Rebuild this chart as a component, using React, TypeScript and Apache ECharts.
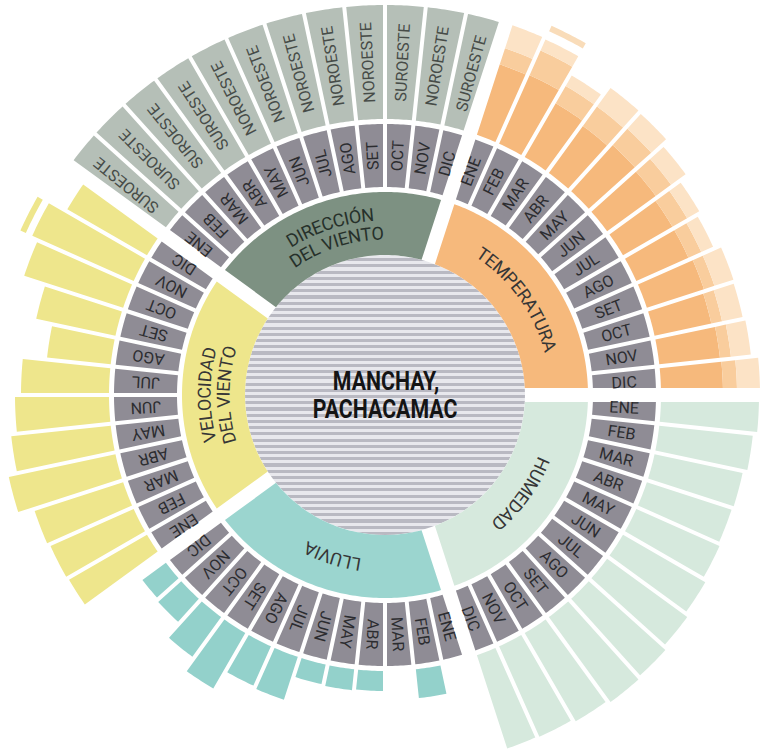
import React, { useEffect, useRef } from 'react';
import * as echarts from 'echarts';

// ---------- data ----------
const MONTHS = ['ENE', 'FEB', 'MAR', 'ABR', 'MAY', 'JUN', 'JUL', 'AGO', 'SET', 'OCT', 'NOV', 'DIC'];
const GROUPS = ['TEMPERATURA', 'HUMEDAD', 'LLUVIA', 'VELOCIDAD\nDEL VIENTO', 'DIRECCIÓN\nDEL VIENTO'];
const PLACE = ['MANCHAY,', 'PACHACAMAC'];

// bar lengths (chart units)
const tempMin = [74, 75, 62, 58, 62, 60, 57, 57, 60, 58, 61, 62];
const tempMean = [91, 102, 82, 82, 84, 79, 74, 71, 71, 69, 72, 76];
const tempMax = [115, 114, 94, 105, 104, 97, 88, 84, 91, 90, 92, 99];
const tempRecord = [0, 129, 0, 0, 0, 0, 0, 0, 0, 0, 0, 0];
const humidity = [98, 94, 90, 89, 91, 95, 99, 103, 105, 102, 99, 98];
const rain = [0, 29, 0, 20, 21, 20, 45, 43, 64, 49, 31, 29];
const windSpeed = [90, 91, 93, 109, 100, 94, 88, 64, 81, 104, 111, 92];
const windRecord = [0, 0, 0, 0, 0, 0, 0, 0, 0, 0, 124, 0];
const windDir = ['SUROESTE', 'SUROESTE', 'SUROESTE', 'SUROESTE', 'NOROESTE', 'NOROESTE', 'NOROESTE', 'NOROESTE', 'NOROESTE', 'SUROESTE', 'NOROESTE', 'SUROESTE'];
const windDirLength = 114;

// ---------- layout ----------
const W = 763;
const H = 752;
const CX = 385;
const CY = 395;
const R_MAX = 420;
const CENTER_R = 140;
const GROUP_RING = [140, 203];
const MONTH_RING = [208, 271];
const BAR_BASE = 276;
const START_ANGLE = 18;
const GROUP_SPAN = 72;
const MONTH_HALF_GAP = 2;
const GROUP_HALF_GAP = 7;
const RECORD_THICK = 6;

const GROUP_COLORS = ['#f6b97c', '#d6e9dd', '#9bd5cf', '#eee68c', '#7d9182'];
const MONTH_COLOR = '#8f8c95';
const DIR_COLOR = '#b5bfb7';
const TEMP_COLORS = ['#f6b97c', '#f9cd9d', '#fce3c6'];
const TEMP_RECORD_COLOR = '#f9dcb9';
const HUM_COLOR = '#d6e9dd';
const RAIN_COLOR = '#93d1cb';
const WIND_COLOR = '#eee68c';

const FONT = 'Roboto, "Liberation Sans", sans-serif';

type Cell = {
  kind: 'group' | 'radial' | 'plain';
  r0: number; r1: number; a0: number; a1: number;
  d0: number; d1: number;
  fill: string;
  label?: string;
  color?: string;
  size?: number;
};

function buildCells(): Cell[] {
  const cells: Cell[] = [];
  const step = GROUP_SPAN / MONTHS.length;
  GROUPS.forEach((g, gi) => {
    const ga0 = START_ANGLE + gi * GROUP_SPAN;
    cells.push({
      kind: 'group', r0: GROUP_RING[0], r1: GROUP_RING[1], a0: ga0, a1: ga0 + GROUP_SPAN,
      d0: GROUP_HALF_GAP, d1: GROUP_HALF_GAP, fill: GROUP_COLORS[gi], label: g,
      color: gi === 4 ? '#26302a' : '#363636', size: 18,
    });
    MONTHS.forEach((m, mi) => {
      const a0 = ga0 + mi * step;
      const a1 = a0 + step;
      const d0 = mi === 0 ? GROUP_HALF_GAP : MONTH_HALF_GAP;
      const d1 = mi === MONTHS.length - 1 ? GROUP_HALF_GAP : MONTH_HALF_GAP;
      const base = { a0, a1, d0, d1 };
      cells.push({ ...base, kind: 'radial', r0: MONTH_RING[0], r1: MONTH_RING[1], fill: MONTH_COLOR, label: m, color: '#2c2c30', size: 16 });
      const bar = (from: number, to: number, fill: string) => {
        if (to > from) cells.push({ ...base, kind: 'plain', r0: BAR_BASE + from, r1: BAR_BASE + to, fill });
      };
      if (gi === 0) {
        bar(0, tempMin[mi], TEMP_COLORS[0]);
        bar(tempMin[mi], tempMean[mi], TEMP_COLORS[1]);
        bar(tempMean[mi], tempMax[mi], TEMP_COLORS[2]);
        if (tempRecord[mi] > 0) bar(tempRecord[mi] - RECORD_THICK, tempRecord[mi], TEMP_RECORD_COLOR);
      } else if (gi === 1) {
        bar(0, humidity[mi], HUM_COLOR);
      } else if (gi === 2) {
        bar(0, rain[mi], RAIN_COLOR);
      } else if (gi === 3) {
        bar(0, windSpeed[mi], WIND_COLOR);
        if (windRecord[mi] > 0) bar(windRecord[mi] - RECORD_THICK, windRecord[mi], WIND_COLOR);
      } else {
        cells.push({ ...base, kind: 'radial', r0: BAR_BASE, r1: BAR_BASE + windDirLength, fill: DIR_COLOR, label: windDir[mi], color: '#474c48', size: 16 });
      }
    });
  });
  return cells;
}

let measureCtx: CanvasRenderingContext2D | null = null;
function textWidth(s: string, font: string): number {
  if (!measureCtx) measureCtx = document.createElement('canvas').getContext('2d');
  if (!measureCtx) return s.length * 10;
  measureCtx.font = font;
  return measureCtx.measureText(s).width;
}

export default function App() {
  const ref = useRef<HTMLDivElement>(null);
  useEffect(() => {
    document.body.style.margin = '0';
    document.body.style.background = '#ffffff';
    if (!ref.current) return;
    const chart = echarts.init(ref.current, undefined, { renderer: 'svg' });
    const cells = buildCells();

    const stripes = 45;
    const stops: { offset: number; color: string }[] = [];
    for (let k = 0; k < stripes; k++) {
      const o0 = k / stripes, o1 = (k + 0.5) / stripes, o2 = (k + 1) / stripes;
      stops.push({ offset: o0, color: '#e8e8ed' }, { offset: o1, color: '#e8e8ed' });
      stops.push({ offset: o1, color: '#b9b9c2' }, { offset: o2, color: '#b9b9c2' });
    }

    const renderItem = (params: any, api: any) => {
      const cell = cells[params.dataIndex];
      const cx = params.coordSys.cx;
      const cy = params.coordSys.cy;
      const polarPx = (r: number, a: number) => {
        const p = api.coord([r, ((a % 360) + 360) % 360]);
        return [Math.hypot(p[0] - cx, p[1] - cy), Math.atan2(p[1] - cy, p[0] - cx)];
      };
      const [R0, s0] = polarPx(api.value(0), api.value(2));
      const [R1, s1] = polarPx(api.value(1), api.value(3));
      let span = s1 - s0;
      while (span <= 0) span += Math.PI * 2;
      const arc = (R: number, from: number, to: number) => {
        const n = Math.max(2, Math.ceil(Math.abs(to - from) * R / 3));
        const pts: number[][] = [];
        for (let i = 0; i <= n; i++) {
          const s = from + (to - from) * i / n;
          pts.push([cx + R * Math.cos(s), cy + R * Math.sin(s)]);
        }
        return pts;
      };
      const inner = arc(R0, s0 + Math.asin(cell.d0 / R0), s0 + span - Math.asin(cell.d1 / R0));
      const outer = arc(R1, s0 + span - Math.asin(cell.d1 / R1), s0 + Math.asin(cell.d0 / R1));
      const children: any[] = [{
        type: 'polygon',
        shape: { points: inner.concat(outer) },
        style: { fill: cell.fill },
      }];
      const sm = s0 + span / 2;
      const Rm = (R0 + R1) / 2;
      if (cell.label && cell.kind === 'radial') {
        children.push({
          type: 'text',
          x: cx + Rm * Math.cos(sm),
          y: cy + Rm * Math.sin(sm),
          rotation: -sm,
          style: {
            text: cell.label, fill: cell.color, fontSize: cell.size, fontFamily: FONT,
            align: 'center', verticalAlign: 'middle',
          },
        });
      } else if (cell.label && cell.kind === 'group') {
        const font = `${cell.size}px Roboto`;
        const lines = cell.label.split('\n');
        const lh = 19;
        lines.forEach((line, li) => {
          const R = Rm + ((lines.length - 1) / 2) * lh - li * lh;
          const total = textWidth(line, font);
          let pos = -total / 2;
          for (const ch of line) {
            const w = textWidth(ch, font);
            const sc = sm + (pos + w / 2) / R;
            pos += w;
            if (ch === ' ') continue;
            children.push({
              type: 'text',
              x: cx + R * Math.cos(sc),
              y: cy + R * Math.sin(sc),
              rotation: -(sc + Math.PI / 2),
              style: {
                text: ch, fill: cell.color, fontSize: cell.size, fontFamily: FONT,
                align: 'center', verticalAlign: 'middle',
              },
            });
          }
        });
      }
      return { type: 'group', children };
    };

    chart.setOption({
      animation: false,
      backgroundColor: '#ffffff',
      polar: { center: [CX, CY], radius: [0, R_MAX] },
      radiusAxis: {
        type: 'value', min: 0, max: R_MAX, show: false,
        axisLine: { show: false }, axisTick: { show: false }, axisLabel: { show: false }, splitLine: { show: false },
      },
      angleAxis: {
        type: 'value', min: 0, max: 360, startAngle: 90, clockwise: true, show: false,
        axisLine: { show: false }, axisTick: { show: false }, axisLabel: { show: false }, splitLine: { show: false },
      },
      graphic: [
        {
          type: 'circle',
          shape: { cx: CX, cy: CY, r: CENTER_R },
          style: { fill: new echarts.graphic.LinearGradient(0, 0, 0, 1, stops) },
          z: 0,
        },
        {
          type: 'text', x: CX + 1, y: CY - 14, scaleX: 0.82, z: 10,
          style: { text: PLACE[0], fill: '#141414', font: `bold 26px ${FONT}`, align: 'center', verticalAlign: 'middle' },
        },
        {
          type: 'text', x: CX, y: CY + 14, scaleX: 0.82, z: 10,
          style: { text: PLACE[1], fill: '#141414', font: `bold 26px ${FONT}`, align: 'center', verticalAlign: 'middle' },
        },
      ],
      series: [{
        type: 'custom',
        coordinateSystem: 'polar',
        dimensions: ['r0', 'r1', 'a0', 'a1'],
        encode: { radius: [0, 1], angle: [2, 3] },
        renderItem,
        data: cells.map((c) => [c.r0, c.r1, c.a0, c.a1]),
        silent: true,
      }],
    });
    return () => chart.dispose();
  }, []);
  return <div ref={ref} style={{ width: W, height: H }} />;
}
